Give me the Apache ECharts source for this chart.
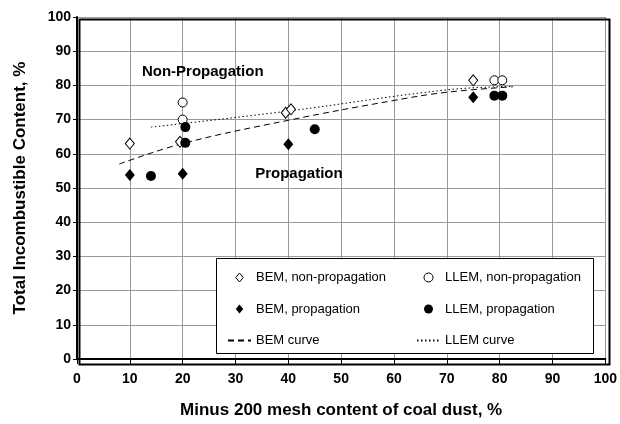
<!DOCTYPE html>
<html>
<head>
<meta charset="utf-8">
<script src="https://cdn.jsdelivr.net/npm/echarts@6/dist/echarts.min.js"></script>
<style>
  html, body { margin: 0; padding: 0; background: #fff; }
  #chart { width: 620px; height: 424px; }
</style>
</head>
<body>
<div id="chart"></div>
<script>
// values
const bemNonProp = [[10, 63], [19.5, 63.5], [39.5, 72], [40.5, 73], [75, 81.5]];
const bemProp = [[10, 53.8], [20, 54.2], [40, 62.8], [75, 76.5]];
const llemNonProp = [[20, 75], [20, 70], [79, 81.5], [80.5, 81.5]];
const llemProp = [[14, 53.5], [20.5, 67.8], [20.5, 63.2], [45, 67.2], [79, 77], [80.5, 77]];
const bemCurve = [[8, 57], [20, 63], [40, 69.8], [60, 75.6], [70, 78], [82.5, 79.6]];
const llemCurve = [[14, 67.8], [40, 72.5], [70, 78.7], [82.5, 79.7]];
const regionLabels = [[23.8, 84, 'Non-Propagation'], [42, 54, 'Propagation']];

const font = 'Liberation Sans, Arial, sans-serif';
const diamondIcon = 'path://M5,0L10,6L5,12L0,6Z';

const chart = echarts.init(document.getElementById('chart'), null, { renderer: 'canvas' });

function openStyle() {
  return { color: '#fff', borderColor: '#000', borderWidth: 1, opacity: 1 };
}
const solidStyle = { color: '#000', opacity: 1 };

const legendText = { fontFamily: font, fontSize: 13, color: '#000' };
const tickText = { fontFamily: font, fontSize: 14, fontWeight: 'bold', color: '#000' };
const titleText = { fontFamily: font, fontSize: 17, fontWeight: 'bold', color: '#000' };

function legendColumn(left, names) {
  return {
    orient: 'vertical', left: left, top: 271, itemGap: 18.5, padding: 0,
    itemWidth: 23, itemHeight: 9, z: 20,
    textStyle: legendText,
    data: [
      { name: names[0], icon: names[3], itemStyle: { borderWidth: 1 } },
      { name: names[1], icon: names[4] },
      { name: names[2], itemStyle: { opacity: 0 } }
    ]
  };
}

chart.setOption({
  animation: false,
  grid: { left: 77, right: 13, top: 17, bottom: 62 },
  xAxis: {
    type: 'value',
    min: 0, max: 100, interval: 10,
    name: 'Minus 200 mesh content of coal dust, %',
    nameLocation: 'middle',
    nameGap: 43,
    nameTextStyle: titleText,
    axisLine: { onZero: false, lineStyle: { color: '#000', width: 2 } },
    axisTick: { show: true, length: 5, lineStyle: { color: '#000' } },
    axisLabel: Object.assign({ margin: 13 }, tickText),
    splitLine: { show: true, lineStyle: { color: '#999', width: 1 } }
  },
  yAxis: {
    type: 'value',
    min: 0, max: 100, interval: 10,
    name: 'Total Incombustible Content, %',
    nameLocation: 'middle',
    nameGap: 48,
    nameTextStyle: titleText,
    axisLine: { onZero: false, lineStyle: { color: '#000', width: 2 } },
    axisTick: { show: true, length: 4, lineStyle: { color: '#000' } },
    axisLabel: Object.assign({ margin: 6 }, tickText),
    splitLine: { show: true, lineStyle: { color: '#999', width: 1 } }
  },
  graphic: [
    {
      type: 'rect',
      left: 77, top: 17,
      shape: { width: 530, height: 345 },
      style: { fill: 'none', stroke: '#000', lineWidth: 2 },
      silent: true, z: 5
    },
    {
      type: 'rect',
      left: 216, top: 258,
      shape: { width: 377, height: 95 },
      style: { fill: '#fff', stroke: '#000', lineWidth: 1 },
      silent: true, z: 10
    }
  ],
  legend: [
    legendColumn(227, ['BEM, non-propagation', 'BEM, propagation', 'BEM curve', diamondIcon, diamondIcon]),
    legendColumn(416, ['LLEM, non-propagation', 'LLEM, propagation', 'LLEM curve', 'circle', 'circle'])
  ],
  series: [
    {
      name: 'BEM curve', type: 'line', data: bemCurve, smooth: 0.4,
      symbol: 'none', z: 2,
      lineStyle: { color: '#000', width: 1, type: [6, 4] },
      itemStyle: { color: '#000' }
    },
    {
      name: 'LLEM curve', type: 'line', data: llemCurve, smooth: 0.4,
      symbol: 'none', z: 2,
      lineStyle: { color: '#000', width: 1, type: [1.5, 2.5] },
      itemStyle: { color: '#000' }
    },
    {
      name: 'BEM, non-propagation', type: 'scatter', data: bemNonProp,
      symbol: 'diamond', symbolSize: [9, 11], z: 3,
      itemStyle: openStyle()
    },
    {
      name: 'BEM, propagation', type: 'scatter', data: bemProp,
      symbol: 'diamond', symbolSize: [10, 12], z: 3,
      itemStyle: solidStyle
    },
    {
      name: 'LLEM, non-propagation', type: 'scatter', data: llemNonProp,
      symbol: 'circle', symbolSize: 9, z: 3,
      itemStyle: openStyle()
    },
    {
      name: 'LLEM, propagation', type: 'scatter', data: llemProp,
      symbol: 'circle', symbolSize: 10, z: 3,
      itemStyle: solidStyle
    },
    {
      name: 'regions', type: 'scatter', symbolSize: 0, silent: true, z: 4,
      itemStyle: { opacity: 1 },
      data: regionLabels.map((r) => ({ value: [r[0], r[1]], label: { formatter: r[2] } })),
      label: {
        show: true, position: 'inside',
        fontFamily: font, fontSize: 15, fontWeight: 'bold', color: '#000'
      }
    }
  ]
});
</script>
</body>
</html>
